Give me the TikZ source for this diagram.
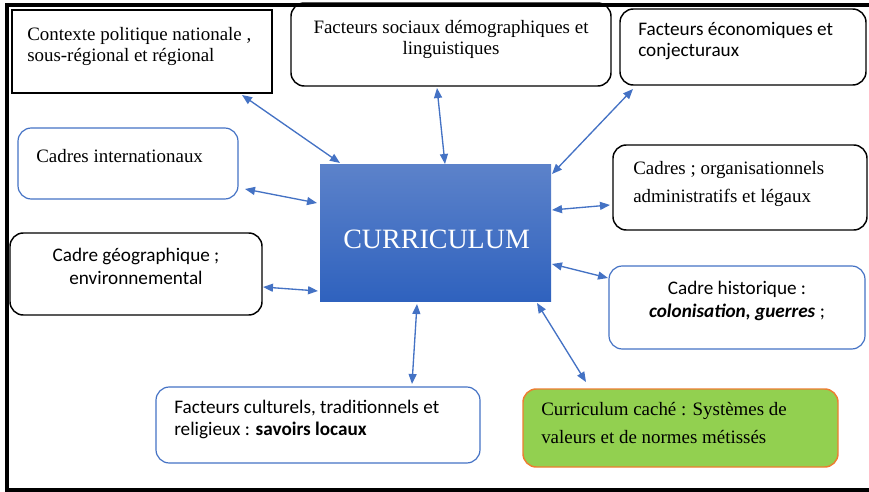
\documentclass[tikz,border=0pt]{standalone}
\usepackage{fontspec}
\setmainfont{Liberation Serif}
\newfontfamily\calib{Carlito}
\usetikzlibrary{arrows.meta,fit,calc}
\definecolor{linkblue}{HTML}{4472C4}
\definecolor{leafgreen}{HTML}{92D050}
\definecolor{accentorange}{HTML}{ED7D31}
\definecolor{currtop}{RGB}{92,130,202}
\definecolor{currbot}{RGB}{47,98,190}
\begin{document}
\begin{tikzpicture}[x=0.75pt,y=-0.75pt,
  frame/.style={inner sep=0pt,outer sep=0pt},
  sharpbox/.style={frame,draw=black,line width=1.2pt},
  blackbox/.style={frame,draw=black,line width=1.1pt,rounded corners=10pt},
  bluebox/.style={frame,draw=linkblue,line width=0.9pt,rounded corners=10pt},
  hiddenbox/.style={frame,draw=accentorange,fill=leafgreen,line width=1.1pt,rounded corners=10pt},
  serifline/.style={inner sep=0pt,font=\fontsize{14.2}{17}\selectfont},
  sansline/.style={inner sep=0pt,font=\calib\fontsize{14.4}{17}\selectfont},
  biarrow/.style={draw=linkblue,line width=1pt,{Triangle[length=7.5pt,width=6pt]}-{Triangle[length=7.5pt,width=6pt]}}
]
\useasboundingbox (0,0) rectangle (869,492);
% outer frame (left, top, bottom edges)
\draw[line width=2.4pt] (869,5) -- (7,5) -- (7,490) -- (869,490);

% central box
\node[frame,fit={(320,165)(551,301)},top color=currtop,bottom color=currbot] (curr) {};
\node[inner sep=0pt,anchor=base west,text=white,font=\fontsize{21}{24}\selectfont] (currT) at (343,248) {CURRICULUM};

% surrounding boxes
\node[sharpbox,fit={(12,10)(272,93)}] (ctx) {};
\node[serifline,anchor=base west] (ctxA) at (27,41) {Contexte politique nationale ,};
\node[serifline,anchor=base west] (ctxB) at (27,62) {sous-régional et régional};

\node[blackbox,fit={(291,3)(611,86)}] (soc) {};
\node[serifline,anchor=base] (socA) at (451,34) {Facteurs sociaux démographiques et};
\node[serifline,anchor=base] (socB) at (451,55) {linguistiques};

\node[blackbox,fit={(620,9)(866,85)}] (eco) {};
\node[sansline,anchor=base west] (ecoA) at (638,36) {Facteurs économiques et};
\node[sansline,anchor=base west] (ecoB) at (638,57) {conjecturaux};

\node[bluebox,fit={(18,128)(238,199)}] (intl) {};
\node[serifline,anchor=base west] (intlA) at (36,163) {Cadres internationaux};

\node[blackbox,fit={(10,233)(262,315)}] (geo) {};
\node[sansline,anchor=base] (geoA) at (136,262) {Cadre géographique ;};
\node[sansline,anchor=base] (geoB) at (136,284) {environnemental};

\node[blackbox,fit={(613,145)(867,230)}] (org) {};
\node[serifline,anchor=base west] (orgA) at (633,175) {Cadres ; organisationnels};
\node[serifline,anchor=base west] (orgB) at (633,203) {administratifs et légaux};

\node[bluebox,fit={(609,266)(865,349)}] (hist) {};
\node[sansline,anchor=base] (histA) at (737,295) {Cadre historique :};
\node[sansline,anchor=base] (histB) at (737,317) {\textbf{\textit{colonisation, guerres}} ;};

\node[bluebox,fit={(156,387)(480,463)}] (cult) {};
\node[sansline,anchor=base west] (cultA) at (174,413) {Facteurs culturels, traditionnels et};
\node[sansline,anchor=base west] (cultB) at (174,435) {religieux : \textbf{savoirs locaux}};

\node[hiddenbox,fit={(523,389)(838,467)}] (hid) {};
\node[serifline,anchor=base west] (hidA) at (541,415) {Curriculum caché : Systèmes de};
\node[serifline,anchor=base west] (hidB) at (541,443) {valeurs et de normes métissés};

% two-way links to the curriculum
\draw[biarrow] ($(ctx.south east)+(-30,2)$) -- ($(curr.north west)+(20,-2)$);
\draw[biarrow] ($(soc.south)+(-14,2)$) -- ($(curr.north)+(9.5,-1)$);
\draw[biarrow] ($(eco.south west)+(13,4)$) -- ($(curr.north east)+(1,9)$);
\draw[biarrow] ($(intl.south east)+(7,-10)$) -- ($(curr.west)+(-3,-30)$);
\draw[biarrow] ($(geo.east)+(1,13)$) -- ($(curr.west)+(-2,58)$);
\draw[biarrow] ($(curr.east)+(1,-23)$) -- ($(org.west)+(-3,17.5)$);
\draw[biarrow] ($(curr.east)+(1,31)$) -- ($(hist.west)+(-1,-29.5)$);
\draw[biarrow] ($(curr.south)+(-18.5,3)$) -- ($(cult.north)+(94,-3)$);
\draw[biarrow] ($(curr.south east)+(-14,2)$) -- ($(hid.north west)+(63,-7)$);
\end{tikzpicture}
\end{document}
